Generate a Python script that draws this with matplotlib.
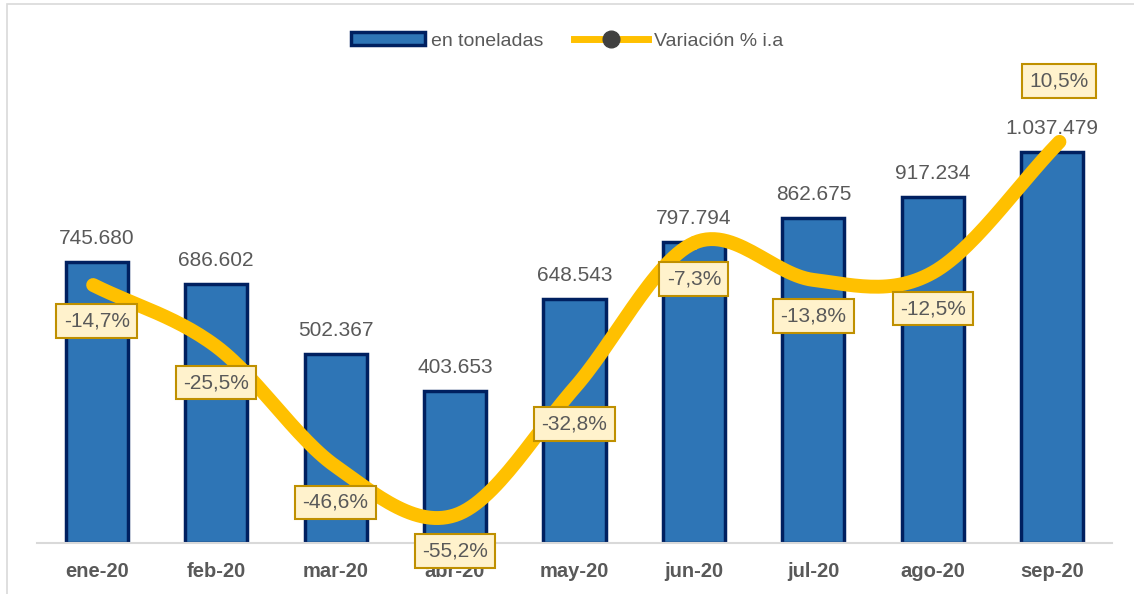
import numpy as np
import matplotlib.pyplot as plt
from matplotlib.lines import Line2D
from matplotlib.patches import Rectangle

plt.rcParams["font.family"] = ["Liberation Sans", "DejaVu Sans"]

months = ["ene-20", "feb-20", "mar-20", "abr-20", "may-20", "jun-20", "jul-20", "ago-20", "sep-20"]
toneladas = [745680, 686602, 502367, 403653, 648543, 797794, 862675, 917234, 1037479]
variacion = [-14.7, -25.5, -46.6, -55.2, -32.8, -7.3, -13.8, -12.5, 10.5]

BAR = "#2E75B6"
BAR_EDGE = "#002060"
LINE = "#FFC000"
GRAY = "#595959"


def fmt_miles(v):
    return f"{v:,}".replace(",", ".")


def fmt_pct(v):
    return f"{v:.1f}%".replace(".", ",")


def catmull_rom(x, y, n=30):
    # smooth line like the one excel draws
    px = np.concatenate([[2 * x[0] - x[1]], x, [2 * x[-1] - x[-2]]])
    py = np.concatenate([[2 * y[0] - y[1]], y, [2 * y[-1] - y[-2]]])
    xs, ys = [], []
    t = np.linspace(0, 1, n)
    for i in range(1, len(px) - 2):
        for p, out in ((px, xs), (py, ys)):
            p0, p1, p2, p3 = p[i - 1], p[i], p[i + 1], p[i + 2]
            out.extend(0.5 * ((2 * p1) + (-p0 + p2) * t
                              + (2 * p0 - 5 * p1 + 4 * p2 - p3) * t ** 2
                              + (-p0 + 3 * p1 - 3 * p2 + p3) * t ** 3))
    return np.array(xs), np.array(ys)


fig = plt.figure(figsize=(11.34, 5.94), dpi=100)
ax = fig.add_axes([37 / 1134, 51 / 594, 1075 / 1134, 483 / 594])
x = np.arange(len(months))

ax.bar(x, toneladas, width=0.52, color=BAR, edgecolor=BAR_EDGE, linewidth=2.5, zorder=2)
for xi, v in zip(x, toneladas):
    ax.annotate(fmt_miles(v), (xi, v), xytext=(0, 10), textcoords="offset points",
                ha="center", va="bottom", fontsize=15, color=GRAY)

ax.set_xlim(-0.5, len(months) - 0.5)
ax.set_ylim(0, 1281700)
ax.set_yticks([])
ax.set_xticks(x)
ax.set_xticklabels(months, fontsize=14.5, fontweight="bold", color=GRAY)
ax.tick_params(axis="x", length=0, pad=14)
for s in ["top", "right", "left"]:
    ax.spines[s].set_visible(False)
ax.spines["bottom"].set_color("#D9D9D9")
ax.spines["bottom"].set_linewidth(1.5)

ax2 = ax.twinx()
ax2.set_ylim(-60.1, 24.9)
ax2.axis("off")
sx, sy = catmull_rom(x.astype(float) - np.r_[0.03, np.zeros(7), -0.06], np.array(variacion))
ax2.plot(sx, sy, color=LINE, linewidth=10, solid_capstyle="round", zorder=3)

box = dict(boxstyle="square,pad=0.35", facecolor="#FFF2CC", edgecolor="#BF9000", linewidth=1.5)
for i, v in enumerate(variacion):
    dy = 44 if i == len(variacion) - 1 else -26
    dx = 5 if i == len(variacion) - 1 else 0
    ax2.annotate(fmt_pct(v), (x[i], v), xytext=(dx, dy), textcoords="offset points",
                 ha="center", va="center", fontsize=15, color=GRAY, bbox=box, zorder=4)

handles = [
    Rectangle((0, 0), 1, 1, facecolor=BAR, edgecolor=BAR_EDGE, linewidth=2.5),
    Line2D([], [], color=LINE, linewidth=5, marker="o", markersize=12,
           markerfacecolor="#404040", markeredgecolor="#404040"),
]
fig.legend(handles, ["en toneladas", "Variación % i.a"], loc="center", bbox_to_anchor=(0.5, 1 - 41 / 594),
           ncol=2, frameon=False, fontsize=14, labelcolor=GRAY, handlelength=3.8,
           handleheight=0.6, handletextpad=0.3, columnspacing=1.6)

fig.patches.append(Rectangle((7 / 1134, -0.1), 1.1, 1.1 - 4 / 594, transform=fig.transFigure,
                             fill=False, edgecolor="#D9D9D9", linewidth=1.2))

fig.savefig("out.png", dpi=100)
